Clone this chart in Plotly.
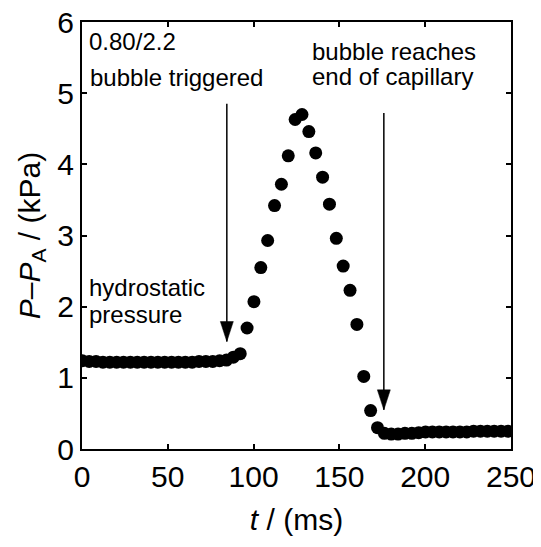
import plotly.graph_objects as go

# ---- data ----
t_ms = [0.2, 4.2, 8.2, 12.2, 16.2, 20.2, 24.2, 28.2, 32.2, 36.2,
        40.2, 44.2, 48.2, 52.2, 56.2, 60.2, 64.2, 68.2, 72.2, 76.2,
        80.2, 84.2, 88.2, 92.2, 96.2, 100.2, 104.2, 108.2, 112.2, 116.2,
        120.2, 124.2, 128.2, 132.2, 136.2, 140.2, 144.2, 148.2, 152.2, 156.2,
        160.2, 164.2, 168.2, 172.2, 176.2, 180.2, 184.2, 188.2, 192.2, 196.2,
        200.2, 204.2, 208.2, 212.2, 216.2, 220.2, 224.2, 228.2, 232.2, 236.2,
        240.2, 244.2, 248.2]
p_kpa = [1.24, 1.23, 1.23, 1.22, 1.22, 1.22, 1.22, 1.22, 1.22, 1.22,
         1.22, 1.22, 1.22, 1.22, 1.22, 1.22, 1.22, 1.23, 1.23, 1.23,
         1.24, 1.25, 1.29, 1.34, 1.70, 2.07, 2.55, 2.93, 3.42, 3.72,
         4.12, 4.63, 4.70, 4.46, 4.16, 3.82, 3.44, 2.96, 2.57, 2.23,
         1.75, 1.02, 0.54, 0.30, 0.22, 0.21, 0.21, 0.22, 0.22, 0.23,
         0.24, 0.24, 0.24, 0.24, 0.24, 0.24, 0.24, 0.25, 0.25, 0.25,
         0.25, 0.25, 0.25]

x_ticks = [0, 50, 100, 150, 200, 250]
y_ticks = [0, 1, 2, 3, 4, 5, 6]

# annotation texts and anchor positions (data coords)
label_texts = ["0.80/2.2", "bubble triggered", "bubble reaches", "end of capillary",
               "hydrostatic", "pressure"]
label_x = [3.0, 3.3, 132.8, 132.8, 3.0, 3.0]
label_y = [5.72, 5.22, 5.58, 5.23, 2.27, 1.89]

# arrows: x position, top of shaft, tip
arrow_x = [84.4, 175.9]
arrow_top = [4.85, 4.72]
arrow_tip = [1.51, 0.55]

FONT = "Liberation Sans, Arial, Helvetica, sans-serif"

fig = go.Figure()
fig.add_trace(go.Scatter(
    x=t_ms, y=p_kpa, mode="markers",
    marker=dict(size=13, color="black", line=dict(width=0)),
    showlegend=False, hoverinfo="skip"))

for txt, ax_, ay_ in zip(label_texts, label_x, label_y):
    fig.add_annotation(x=ax_, y=ay_, xref="x", yref="y", text=txt,
                       showarrow=False, xanchor="left", yanchor="middle",
                       font=dict(family=FONT, size=24, color="black"))

for xa, yt, yp in zip(arrow_x, arrow_top, arrow_tip):
    fig.add_shape(type="line", xref="x", yref="y", x0=xa, x1=xa, y0=yt, y1=yp,
                  line=dict(color="black", width=1.5))
    fig.add_shape(type="path", xref="x", yref="y",
                  xsizemode="pixel", ysizemode="pixel", xanchor=xa, yanchor=yp,
                  path="M-6.5,20 L6.5,20 L0,0 Z",
                  fillcolor="black", line=dict(color="black", width=0.5))

axis_common = dict(showline=True, linecolor="black", linewidth=2, mirror="ticks",
                   ticks="inside", ticklen=5, tickwidth=1.5, tickcolor="black",
                   showgrid=False, zeroline=False, ticklabeloverflow="allow",
                   tickfont=dict(family=FONT, size=30, color="black"))

fig.update_xaxes(range=[0, 250], tickvals=x_ticks, ticktext=[str(v) for v in x_ticks],
                 title=dict(text="<i>t</i> / (ms)", font=dict(family=FONT, size=30, color="black"),
                            standoff=17),
                 **axis_common)
fig.update_yaxes(range=[0, 6], tickvals=y_ticks, ticktext=[str(v) for v in y_ticks],
                 title=dict(text="<i>P</i>–<i>P</i><sub>A</sub> / (kPa)",
                            font=dict(family=FONT, size=30, color="black"), standoff=8),
                 **axis_common)

# page body adds an 8px offset, so the figure is sized/margined to compensate
fig.update_layout(width=533, height=539,
                  margin=dict(l=74, r=30, t=14, b=98, autoexpand=False),
                  paper_bgcolor="white", plot_bgcolor="white",
                  font=dict(family=FONT, color="black"))

fig.write_html("out.html")
